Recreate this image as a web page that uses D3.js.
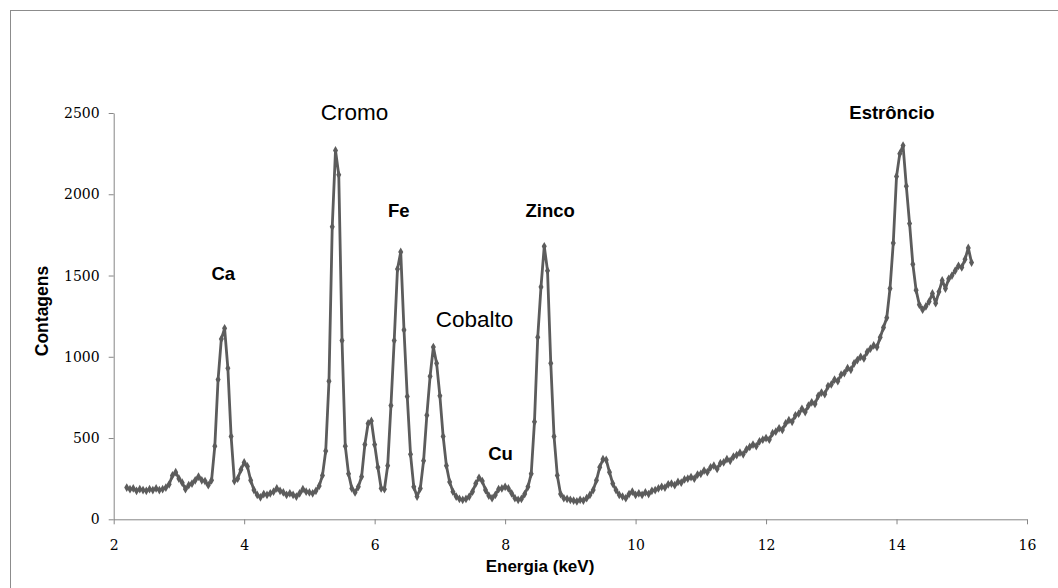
<!DOCTYPE html>
<html>
<head>
<meta charset="utf-8">
<script src="https://cdn.jsdelivr.net/npm/d3@7"></script>
<style>
  body { margin: 0; background: #fff; }
  svg { display: block; }
  .tick text { font-family: "DejaVu Serif", "Liberation Serif", serif; font-size: 14px; fill: #000; }
  .axis path, .axis line { stroke: #868686; }
  .lbl { font-family: "Liberation Sans", Arial, sans-serif; fill: #000; }
</style>
</head>
<body>
<div id="scene"></div>
<script>
// spectrum sampled every 0.05 keV from 2.20 keV
var energyStart = 2.20;
var energyStep = 0.05;
var counts = [
  195,185,190,175,185,180,175,185,180,190,
  180,185,195,215,270,290,250,225,185,210,
  220,240,262,240,235,210,240,450,860,1110,
  1175,930,510,235,250,305,350,325,240,180,
  150,135,155,150,160,170,190,175,165,150,
  160,150,140,160,185,170,165,160,175,205,
  270,420,850,1800,2270,2120,1100,450,280,190,
  165,200,262,460,590,605,460,320,190,185,
  330,700,1100,1540,1645,1165,755,400,200,140,
  190,360,640,880,1060,960,760,510,330,230,
  170,140,125,120,125,140,170,220,255,235,
  180,145,130,150,185,190,200,190,160,130,
  120,125,155,200,280,600,1120,1430,1680,1530,
  960,510,270,155,130,125,120,115,110,120,
  115,130,150,180,240,320,370,365,290,220,
  180,150,140,130,155,170,150,160,150,165,
  155,175,180,190,200,195,215,220,210,230,
  225,245,250,260,250,275,280,300,290,320,
  330,310,345,350,370,360,385,395,410,400,
  430,445,460,450,480,490,500,490,530,540,
  560,550,590,610,600,640,650,680,660,700,
  720,710,760,780,770,820,830,860,850,890,
  900,930,920,960,980,1000,990,1030,1050,1070,
  1060,1120,1180,1240,1420,1700,2110,2250,2300,2050,
  1820,1570,1410,1320,1290,1310,1340,1390,1330,1400,
  1470,1420,1480,1500,1530,1560,1550,1600,1670,1580
];

var xTicks = [2, 4, 6, 8, 10, 12, 14, 16];
var yTicks = [0, 500, 1000, 1500, 2000, 2500];

var peakNames = ["Ca", "Cromo", "Fe", "Cobalto", "Cu", "Zinco", "Estrôncio"];
var peakEnergy = [3.68, 5.69, 6.37, 7.53, 7.93, 8.69, 13.93];
var peakTextY = [1472, 2455, 1860, 1185, 365, 1860, 2462];
var peakBold = [true, false, true, false, true, true, true];

var ctx = {
  w: 1058,
  h: 588,
  left: 113.7,
  right: 1027,
  top: 113,
  bottom: 519.3,
  color: "#5c5c5c"
};

var spectrum = counts.map(function(c, i) {
  return { e: energyStart + i * energyStep, c: c };
});

var svg = d3.select("#scene").append("svg")
  .attr("width", ctx.w)
  .attr("height", ctx.h);

svg.append("rect")
  .attr("x", 10.5).attr("y", 10.5)
  .attr("width", 1070).attr("height", 600)
  .attr("fill", "none")
  .attr("stroke", "#8c8c8c");

var x = d3.scaleLinear().domain([2, 16]).range([ctx.left, ctx.right]);
var y = d3.scaleLinear().domain([0, 2500]).range([ctx.bottom, ctx.top]);

var xAxis = svg.append("g")
  .attr("class", "axis")
  .attr("transform", "translate(0," + ctx.bottom + ")")
  .call(d3.axisBottom(x).tickValues(xTicks).tickFormat(d3.format("d")).tickSize(5).tickSizeOuter(0));
xAxis.selectAll(".tick text").attr("dy", "1.62em");

var yAxis = svg.append("g")
  .attr("class", "axis")
  .attr("transform", "translate(" + ctx.left + ",0)")
  .call(d3.axisLeft(y).tickValues(yTicks).tickFormat(d3.format("d")).tickSize(5).tickSizeOuter(0));
yAxis.selectAll(".tick text").attr("x", -14);

// spectrum line
var line = d3.line()
  .x(function(d) { return x(d.e); })
  .y(function(d) { return y(d.c); });

svg.append("path")
  .datum(spectrum)
  .attr("d", line)
  .attr("fill", "none")
  .attr("stroke", ctx.color)
  .attr("stroke-width", 2.8)
  .attr("stroke-linejoin", "round");

svg.append("g").selectAll("path")
  .data(spectrum)
  .enter()
  .append("path")
  .attr("transform", function(d) { return "translate(" + x(d.e) + "," + y(d.c) + ")"; })
  .attr("d", d3.symbol().type(d3.symbolDiamond).size(22))
  .attr("fill", ctx.color);

// peak labels
svg.append("g").selectAll("text")
  .data(peakNames)
  .enter()
  .append("text")
  .attr("class", "lbl")
  .attr("x", function(d, i) { return x(peakEnergy[i]); })
  .attr("y", function(d, i) { return y(peakTextY[i]); })
  .attr("text-anchor", "middle")
  .attr("font-size", function(d, i) { return peakBold[i] ? "18.5px" : "22.5px"; })
  .attr("font-weight", function(d, i) { return peakBold[i] ? "bold" : "normal"; })
  .text(function(d) { return d; });

// axis titles
svg.append("text")
  .attr("class", "lbl")
  .attr("x", 540)
  .attr("y", 572)
  .attr("text-anchor", "middle")
  .attr("font-size", "17px")
  .attr("font-weight", "bold")
  .text("Energia (keV)");

svg.append("text")
  .attr("class", "lbl")
  .attr("transform", "translate(48,311) rotate(-90)")
  .attr("text-anchor", "middle")
  .attr("font-size", "17.5px")
  .attr("font-weight", "bold")
  .text("Contagens");
</script>
</body>
</html>
